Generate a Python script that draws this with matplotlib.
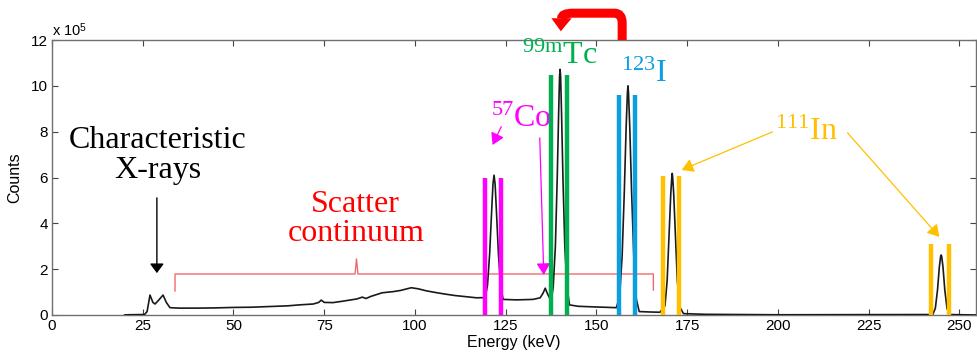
import matplotlib.pyplot as plt
from matplotlib.patches import PathPatch, Polygon
from matplotlib.path import Path

plt.rcParams['font.family'] = ['Liberation Sans', 'DejaVu Sans']
plt.rcParams['mathtext.fontset'] = 'custom'
plt.rcParams['mathtext.rm'] = 'Liberation Serif'
plt.rcParams['mathtext.it'] = 'Liberation Serif:italic'
plt.rcParams['mathtext.sf'] = 'Liberation Sans'

# Energy spectrum (keV) and counts (x 10^5)
energy = [20.0, 21.0, 25.5, 26.2, 27.0, 27.8, 28.4, 29.4, 30.6, 31.5, 32.5,
          35, 40, 45, 50, 55, 60, 65, 68, 72, 73.5, 74.2, 75, 77.4, 80, 84,
          85.5, 86.5, 88, 91, 94, 96, 99, 101, 103, 105, 108, 111, 114, 117,
          119.4, 120.0, 120.6, 121.1, 121.5, 121.8, 122.1, 122.5, 123.0, 123.6, 124.3,
          128, 132.5, 134.5, 135.3, 135.9, 136.6, 137.5,
          138.1, 138.7, 139.2, 139.6, 139.85, 140.0, 140.15, 140.4, 140.8, 141.3, 141.9, 142.6,
          145, 150, 155.5, 156.4, 157.1, 157.7, 158.2, 158.55, 158.7, 158.85, 159.2, 159.7, 160.3, 161.0,
          161.8, 165, 167.5, 168.9, 169.5, 170.0, 170.5, 170.8, 170.9, 171.0, 171.3, 171.8, 172.3, 173.0,
          174, 180, 200, 242.7, 243.4, 244.0, 244.5, 244.85, 245.0, 245.15, 245.5, 246.0, 246.6,
          247.3, 254.6]
counts = [0.0, 0.01, 0.02, 0.15, 0.87, 0.55, 0.48, 0.65, 0.87, 0.55, 0.32,
          0.30, 0.30, 0.31, 0.33, 0.34, 0.37, 0.40, 0.44, 0.48, 0.55, 0.65, 0.55, 0.54, 0.60, 0.70,
          0.78, 0.72, 0.82, 0.97, 1.02, 1.07, 1.19, 1.14, 1.06, 1.00, 0.92, 0.85, 0.80, 0.75,
          0.76, 1.3, 2.7, 4.4, 5.7, 6.1, 5.7, 4.4, 2.7, 1.3, 0.68,
          0.66, 0.68, 0.75, 0.95, 1.17, 0.90, 0.62,
          1.2, 3.0, 5.9, 8.8, 10.4, 10.72, 10.4, 8.8, 5.9, 3.0, 1.2, 0.44,
          0.38, 0.35, 0.32, 0.8, 2.6, 5.4, 8.2, 9.7, 10.0, 9.7, 8.2, 5.4, 2.6, 0.7,
          0.15, 0.13, 0.12, 0.4, 1.5, 3.4, 5.3, 6.05, 6.18, 6.05, 5.3, 3.4, 1.5, 0.35,
          0.06, 0.03, 0.01, 0.02, 0.3, 1.1, 2.1, 2.55, 2.62, 2.55, 2.1, 1.1, 0.3,
          0.02, 0.0]

# Energy windows: lower edge, upper edge, bar height, colour
win_lo = [119.2, 137.6, 156.1, 168.3, 242.2]
win_hi = [123.6, 142.0, 160.7, 172.9, 247.1]
win_h = [6.0, 10.48, 9.6, 6.07, 3.09]
win_col = ['#FF00FF', '#00B050', '#0A9EE3', '#FFC000', '#FFC000']

x_ticks = [0, 25, 50, 75, 100, 125, 150, 175, 200, 225, 250]
y_ticks = [0, 2, 4, 6, 8, 10, 12]

fig = plt.figure(figsize=(9.77, 3.53), dpi=100)
ax = fig.add_axes([52 / 977, 38 / 353, (976 - 52) / 977, (315 - 40) / 353])

ax.plot(energy, counts, color='#1a1a1a', lw=1.2, zorder=3)
ax.vlines(win_lo, 0, win_h, colors=win_col, lw=3.2, zorder=4)
ax.vlines(win_hi, 0, win_h, colors=win_col, lw=3.2, zorder=4)

ax.set_xlim(0, 254.6)
ax.set_ylim(0, 12)
ax.set_xticks(x_ticks)
ax.set_yticks(y_ticks)
ax.tick_params(direction='in', length=4, width=0.8, color='#444444',
               top=True, right=True, labelsize=11, pad=3)
for s in ax.spines.values():
    s.set_color('#707070')
    s.set_linewidth(1.0)
ax.set_xlabel('Energy (keV)', fontsize=11.5, labelpad=1)
ax.set_ylabel('Counts', fontsize=11.5, labelpad=6)
ax.text(0.0, 1.005, r'x 10$^{\mathsf{5}}$', transform=ax.transAxes,
        fontsize=10.5, va='bottom', ha='left')

serif = ['Liberation Serif', 'DejaVu Serif']

# Characteristic x-rays
ax.text(29.2, 6.95, 'Characteristic\nX-rays', family=serif, fontsize=23,
        ha='center', va='center', linespacing=1.05, color='black')
ax.annotate('', xy=(28.9, 1.83), xytext=(28.9, 5.11),
            arrowprops=dict(arrowstyle='-|>,head_length=0.4,head_width=0.3',
                            color='black', lw=1.0, mutation_scale=14,
                            shrinkA=0, shrinkB=0))

# Scatter continuum bracket
ax.text(83.7, 4.2, 'Scatter\ncontinuum', family=serif, fontsize=23,
        ha='center', va='center', linespacing=1.0, color='#FF0000')
ax.plot([33.9, 33.9, 83.5, 83.9, 84.3, 165.7, 165.7],
        [1.05, 1.79, 1.79, 2.45, 1.79, 1.79, 1.09],
        color='#F26B6B', lw=1.0, zorder=2)

# Isotope labels
ax.text(129.3, 8.55, r'${}^{\mathrm{57}}\mathrm{Co}$', fontsize=23,
        ha='center', va='center', color='#FF00FF')
ax.text(139.9, 11.3, r'${}^{\mathrm{99m}}\mathrm{Tc}$', fontsize=23,
        ha='center', va='center', color='#00B050', clip_on=False)
ax.text(163.0, 10.5, r'${}^{\mathrm{123}}\mathrm{I}$', fontsize=23,
        ha='center', va='center', color='#0A9EE3')
ax.text(208.0, 8.0, r'${}^{\mathrm{111}}\mathrm{In}$', fontsize=23,
        ha='center', va='center', color='#FFC000')

thin = '-|>,head_length=0.5,head_width=0.3'
for start, tip, col in [((123.8, 8.22), (121.4, 7.42), '#FF00FF'),
                        ((134.4, 7.73), (135.5, 1.75), '#FF00FF'),
                        ((198.5, 7.99), (173.5, 6.33), '#FFC000'),
                        ((219.2, 7.95), (244.5, 3.41), '#FFC000')]:
    ax.annotate('', xy=tip, xytext=start,
                arrowprops=dict(arrowstyle=thin, color=col, lw=0.9,
                                mutation_scale=14, shrinkA=0, shrinkB=0))

# U-turn arrow above the plot
verts = [(157.1, 12.0), (157.1, 12.75), (157.1, 13.17), (155.0, 13.17),
         (143.5, 13.17), (140.4, 13.17), (140.4, 12.93)]
codes = [Path.MOVETO, Path.LINETO, Path.CURVE3, Path.CURVE3,
         Path.LINETO, Path.CURVE3, Path.CURVE3]
ax.add_patch(PathPatch(Path(verts, codes), fill=False, edgecolor='#FF0000',
                       lw=6.5, capstyle='butt', clip_on=False, zorder=5))
ax.add_patch(Polygon([(137.6, 12.95), (143.2, 12.95), (140.2, 12.38)],
                     closed=True, facecolor='#FF0000', edgecolor='none',
                     clip_on=False, zorder=5))

fig.savefig('out.png', dpi=100)
